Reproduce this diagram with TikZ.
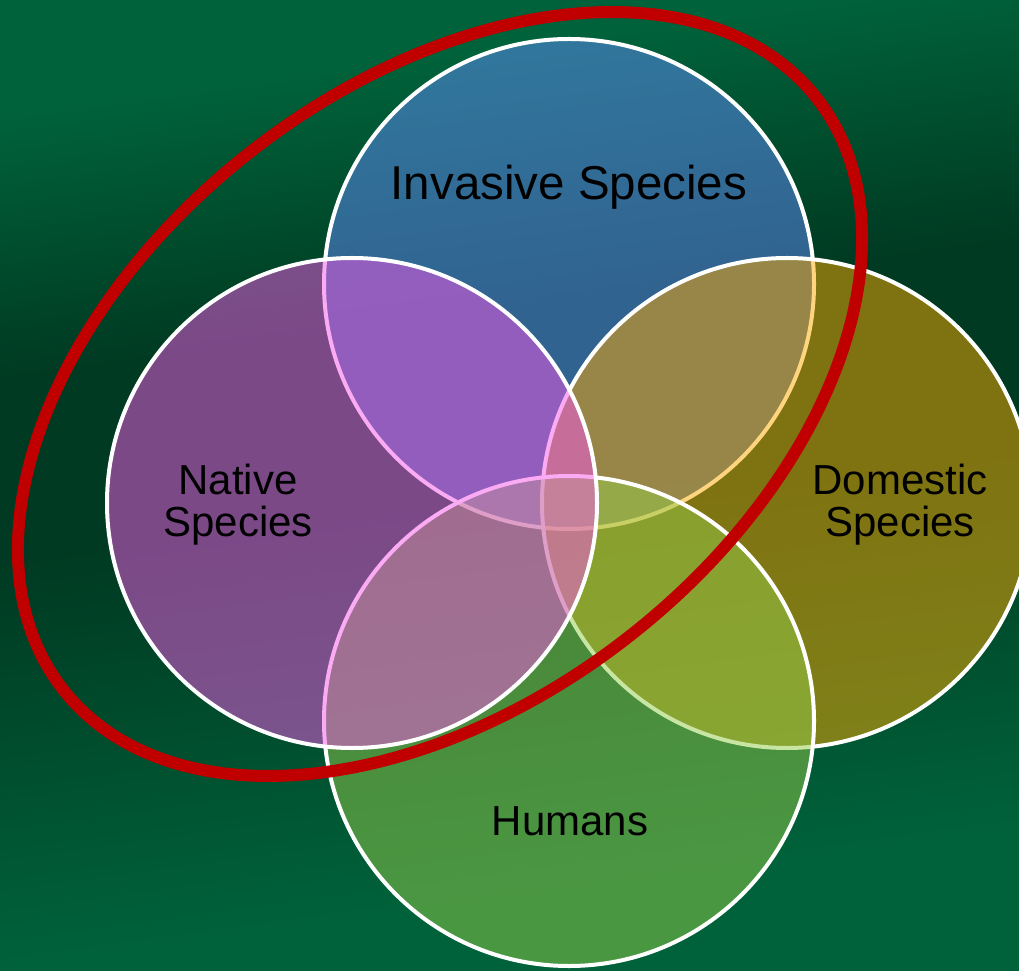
\documentclass[tikz,border=0pt]{standalone}
\usepackage{fontspec}
\setmainfont{Liberation Sans}
\usetikzlibrary{shapes.geometric}
\definecolor{bglight}{RGB}{0,98,58}
\definecolor{bgdark}{RGB}{0,58,34}
\definecolor{cinv}{RGB}{98,140,255}
\definecolor{cdom}{RGB}{254,170,0}
\definecolor{chum}{RGB}{148,204,75}
\definecolor{cnat}{RGB}{246,88,235}
\definecolor{ringred}{RGB}{192,0,0}
\pgfdeclareverticalshading{bgshade}{2000bp}{color(0bp)=(bglight); color(180bp)=(bglight); color(580bp)=(bgdark); color(760bp)=(bgdark); color(1020bp)=(bglight); color(1400bp)=(bglight)}
\tikzset{
  venn/.style={circle, draw=white, line width=4pt, fill opacity=0.5, minimum size=490pt, inner sep=0pt},
  lbl/.style={font=\fontsize{42}{43}\selectfont, align=center, text=black, inner sep=0pt, anchor=base},
  focusring/.style={ellipse, draw=ringred, line width=12pt, inner sep=0pt}
}
\begin{document}
\begin{tikzpicture}[x=1pt,y=1pt]
\useasboundingbox (0,0) rectangle (1019,970);
\begin{scope}
  \clip (0,0) rectangle (1019,970);
  \node[inner sep=0pt, rotate=7.8] (bg) at (509.5,600) {\pgfuseshading{bgshade}};
\end{scope}
% circles in drawing order
\node[venn, fill=cinv] (inv) at (569,686) {};
\node[venn, fill=cdom] (dom) at (787,467) {};
\node[venn, fill=chum] (hum) at (569,249) {};
\node[venn, fill=cnat] (nat) at (352,467) {};
% labels
\node[lbl, font=\fontsize{47.5}{50}\selectfont] (tinv) at (569,770) {Invasive Species};
\node[lbl] (tnat) at (238,433) {Native\\Species};
\node[lbl] (tdom) at (900,433) {Domestic\\Species};
\node[lbl] (thum) at (570,135) {Humans};
% red ring
\node[focusring, minimum width=958pt, minimum height=615pt, rotate=38.1] (focus) at (440,576) {};
\end{tikzpicture}
\end{document}
